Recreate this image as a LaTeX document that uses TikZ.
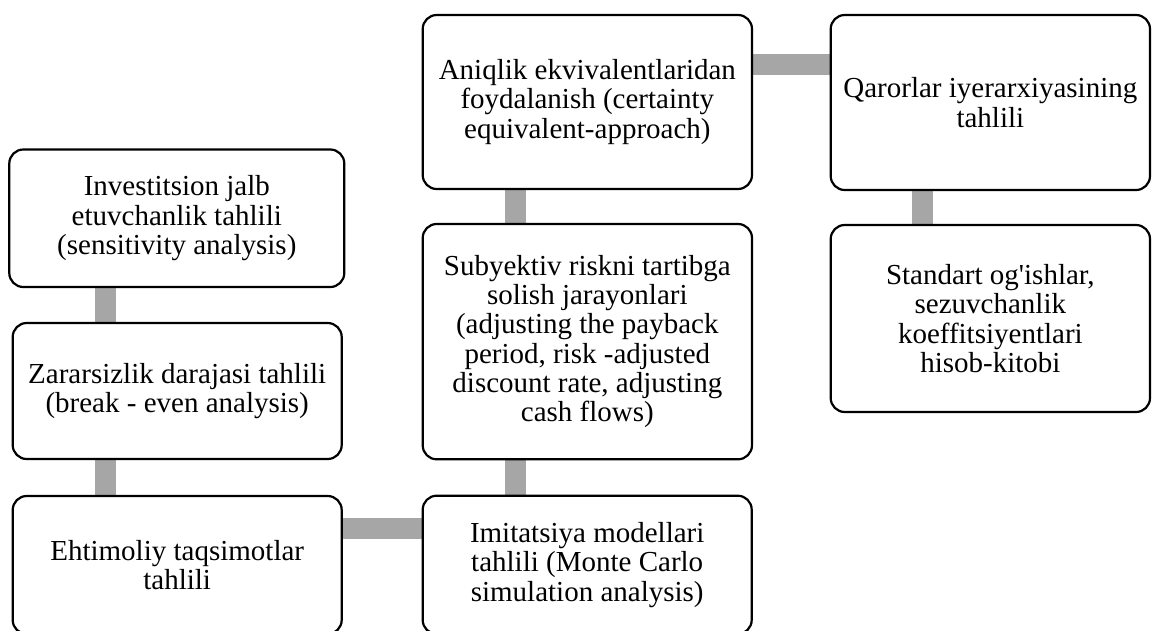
\documentclass[tikz,border=0pt]{standalone}
\usepackage{fontspec}
\setmainfont{Liberation Serif}[Ligatures=TeXOff]
\usetikzlibrary{backgrounds}
\definecolor{linkgray}{RGB}{166,166,166}
\tikzset{
  box/.style={draw=black, fill=white, line width=2.2pt, rounded corners=14pt,
    align=center, inner sep=0pt, font=\fontsize{29pt}{29.3pt}\selectfont},
  link/.style={draw=linkgray, line width=21pt, line cap=butt}
}
\begin{document}
\begin{tikzpicture}[x=1pt,y=-1pt]
\useasboundingbox (0,0) rectangle (1152,630);
\clip (0,0) rectangle (1152,630);

% left column
\node[box, minimum width=335pt, minimum height=137.5pt] (b1) at (176.8,218.25)
  {Investitsion jalb\\etuvchanlik tahlili\\(sensitivity analysis)};
\node[box, minimum width=329pt, minimum height=136pt] (b2) at (177.2,391)
  {Zararsizlik darajasi tahlili\\(break - even analysis)};
\node[box, minimum width=329pt, minimum height=138pt] (b3) at (177.2,565)
  {Ehtimoliy taqsimotlar\\tahlili};

% middle column
\node[box, minimum width=329pt, minimum height=138.3pt] (b4) at (587.2,564.85)
  {Imitatsiya modellari\\tahlili (Monte Carlo\\simulation analysis)};
\node[box, minimum width=329.3pt, minimum height=235.3pt] (b5) at (587.35,341.65)
  {Subyektiv riskni tartibga\\solish jarayonlari\\(adjusting the payback\\period, risk -adjusted\\discount rate, adjusting\\cash flows)};
\node[box, minimum width=329.3pt, minimum height=174pt] (b6) at (587.35,102)
  {Aniqlik ekvivalentlaridan\\foydalanish (certainty\\equivalent-approach)};

% right column
\node[box, minimum width=319.3pt, minimum height=175pt] (b7) at (990.35,102.5)
  {Qarorlar iyerarxiyasining\\tahlili};
\node[box, minimum width=319.3pt, minimum height=187pt] (b8) at (990.35,318.5)
  {Standart og'ishlar,\\sezuvchanlik\\koeffitsiyentlari\\hisob-kitobi};

% connecting bars, kept behind the boxes
\begin{scope}[on background layer]
  \coordinate (kl) at ([xshift=93.5pt]b2.north west);
  \coordinate (km) at ([xshift=94.3pt]b5.north west);
  \coordinate (kr) at ([xshift=93.3pt]b7.south west);
  \draw[link] (kl |- b1.south) -- (kl |- b2.north);
  \draw[link] (kl |- b2.south) -- (kl |- b3.north);
  \coordinate (hb) at ([yshift=-33.5pt]b3.north east);
  \draw[link] (hb) -- (hb -| b4.west);
  \draw[link] (km |- b4.north) -- (km |- b5.south);
  \draw[link] (km |- b5.north) -- (km |- b6.south);
  \coordinate (ht) at ([yshift=-51pt]b6.north east);
  \draw[link] (ht) -- (ht -| b7.west);
  \draw[link] (kr |- b7.south) -- (kr |- b8.north);
\end{scope}
\end{tikzpicture}
\end{document}
